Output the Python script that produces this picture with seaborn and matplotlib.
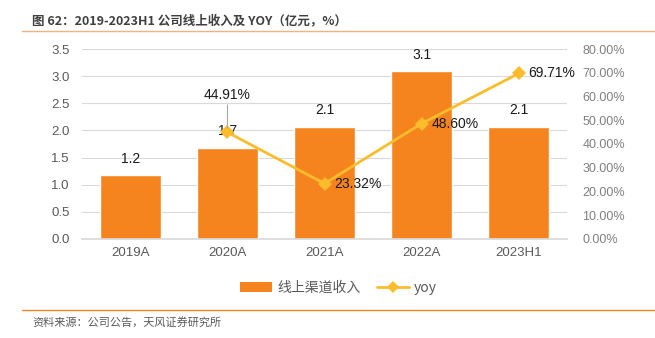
import matplotlib
matplotlib.use("Agg")
import matplotlib.pyplot as plt
from matplotlib.lines import Line2D
from matplotlib.patches import Patch
import seaborn as sns
import pandas as pd

sns.set_theme(style="white")
plt.rcParams["font.family"] = ["Liberation Sans", "Noto Sans CJK SC", "DejaVu Sans"]

years = ["2019A", "2020A", "2021A", "2022A", "2023H1"]
revenue = [1.17, 1.68, 2.07, 3.09, 2.06]
revenue_labels = ["1.2", "1.7", "2.1", "3.1", "2.1"]
yoy_years = ["2020A", "2021A", "2022A", "2023H1"]
yoy = [44.91, 23.32, 48.60, 69.71]

bar_color = "#F5841F"
line_color = "#FCBC2C"
cjk = ["Noto Sans CJK SC", "DejaVu Sans"]

df = pd.DataFrame({"year": years, "revenue": revenue})
yoy_x = [years.index(y) for y in yoy_years]

fig = plt.figure(figsize=(6.55, 3.38), dpi=100)
ax = fig.add_axes([0.125, 0.293, 0.741, 0.562])

sns.barplot(data=df, x="year", y="revenue", color=bar_color, width=0.63,
            saturation=1, ax=ax, zorder=2)
ax.set_ylim(0, 3.5)
ax.set_yticks([0, 0.5, 1.0, 1.5, 2.0, 2.5, 3.0, 3.5])
ax.set_yticklabels([f"{v:.1f}" for v in ax.get_yticks()])
ax.set_xlim(-0.5, len(years) - 0.5)
ax.grid(axis="y", color="#D9D9D9", linewidth=0.8, zorder=0)
ax.set_axisbelow(True)
ax.set_xlabel("")
ax.set_ylabel("")
for s in ax.spines.values():
    s.set_visible(False)
ax.spines["bottom"].set_visible(True)
ax.spines["bottom"].set_color("#D9D9D9")
ax.tick_params(axis="both", length=0, colors="#595959", labelsize=9.5)
ax.tick_params(axis="y", pad=9)
ax.tick_params(axis="x", pad=6)

for i, (v, t) in enumerate(zip(revenue, revenue_labels)):
    ax.annotate(t, (i, v), xytext=(0, 7), textcoords="offset points",
                ha="center", va="bottom", fontsize=10, color="#1A1A1A")

ax2 = ax.twinx()
ydf = pd.DataFrame({"x": yoy_x, "yoy": yoy})
sns.lineplot(data=ydf, x="x", y="yoy", color=line_color, linewidth=2,
             marker="D", markersize=7, markeredgewidth=0, ax=ax2, zorder=3)
ax2.set_ylim(0, 80)
ax2.set_yticks(range(0, 81, 10))
ax2.set_yticklabels([f"{v:.2f}%" for v in range(0, 81, 10)])
ax2.set_ylabel("")
ax2.set_xlabel("")
ax2.set_xlim(-0.5, len(years) - 0.5)
for s in ax2.spines.values():
    s.set_visible(False)
ax2.tick_params(axis="y", length=0, colors="#808080", labelsize=9, pad=11)
ax2.grid(False)

# first growth label sits above its point with a leader line
ax2.annotate(f"{yoy[0]:.2f}%", (yoy_x[0], yoy[0]), xytext=(0, 22),
             textcoords="offset points", ha="center", va="bottom",
             fontsize=10, color="#1A1A1A",
             arrowprops=dict(arrowstyle="-", color="#A6A6A6", lw=0.8,
                             shrinkA=0, shrinkB=3))
for x, v in zip(yoy_x[1:], yoy[1:]):
    ax2.annotate(f"{v:.2f}%", (x, v), xytext=(7, 0), textcoords="offset points",
                 ha="left", va="center", fontsize=10, color="#1A1A1A")

handles = [Patch(facecolor=bar_color, edgecolor="none"),
           Line2D([0], [0], color=line_color, lw=2, marker="D", markersize=6,
                  markeredgewidth=0)]
leg = fig.legend(handles, ["线上渠道收入", "yoy"], loc="center",
                 bbox_to_anchor=(0.517, 0.148), ncol=2, frameon=False,
                 prop={"family": cjk, "size": 10}, handlelength=2.3,
                 handleheight=0.7, columnspacing=1.2, handletextpad=0.35)
for t in leg.get_texts():
    t.set_color("#595959")

fig.text(0.049, 0.937, "图 62：2019-2023H1 公司线上收入及 YOY（亿元，%）",
         fontsize=9, fontweight="bold", color="#404040", family=cjk,
         ha="left", va="center")
fig.add_artist(Line2D([0.034, 1.0], [0.908, 0.908], color="#F4B183", lw=1,
                      transform=fig.transFigure))
fig.add_artist(Line2D([0.034, 1.0], [0.083, 0.083], color="#F5841F", lw=1,
                      transform=fig.transFigure))
fig.text(0.049, 0.047, "资料来源：公司公告，天风证券研究所", fontsize=8,
         color="#595959", family=cjk, ha="left", va="center")

fig.savefig("out.png", dpi=100, facecolor="white")
